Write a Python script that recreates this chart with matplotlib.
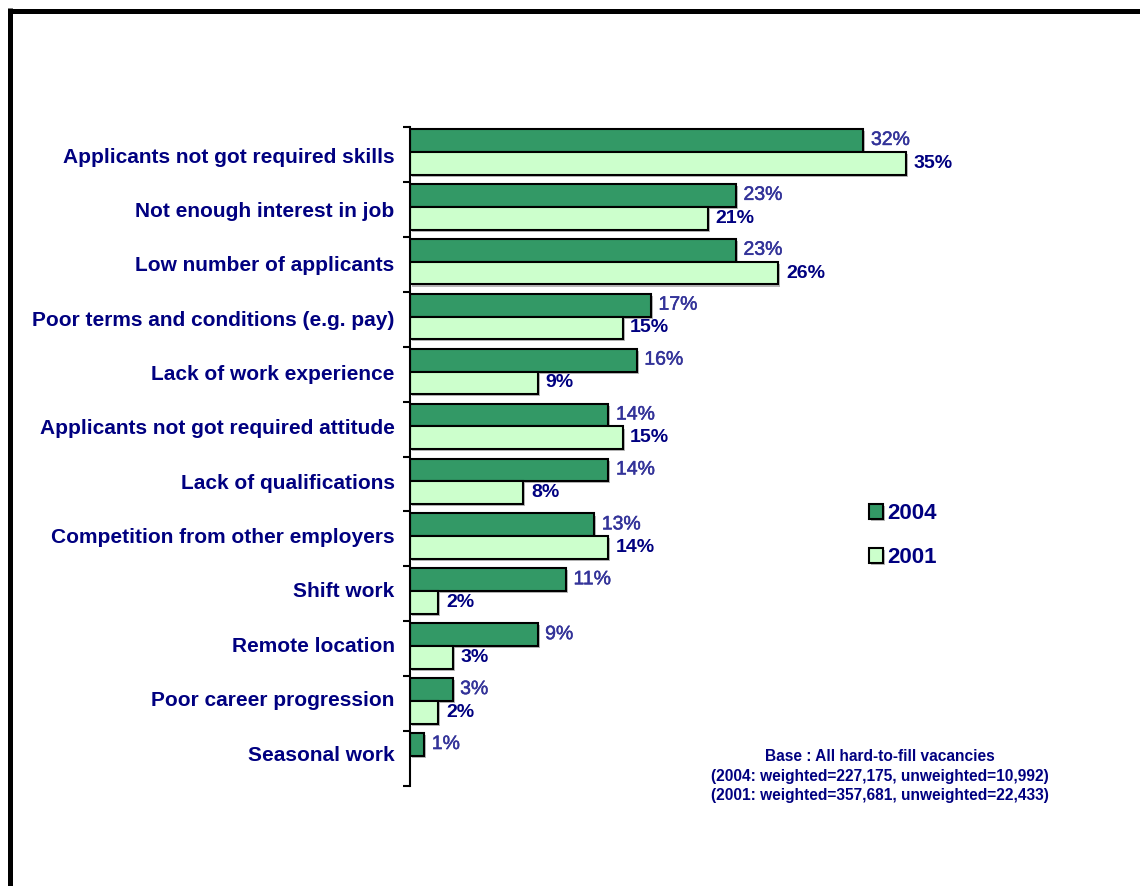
import numpy as np
import matplotlib
matplotlib.use("Agg")
import matplotlib.pyplot as plt
import matplotlib.patheffects as pe
from matplotlib.lines import Line2D

plt.rcParams['font.family'] = ['Liberation Sans', 'DejaVu Sans']

# Reasons for hard-to-fill vacancies (% of vacancies)
categories = [
    "Applicants not got required skills",
    "Not enough interest in job",
    "Low number of applicants",
    "Poor terms and conditions (e.g. pay)",
    "Lack of work experience",
    "Applicants not got required attitude",
    "Lack of qualifications",
    "Competition from other employers",
    "Shift work",
    "Remote location",
    "Poor career progression",
    "Seasonal work",
]
pct_2004 = [32, 23, 23, 17, 16, 14, 14, 13, 11, 9, 3, 1]
pct_2001 = [35, 21, 26, 15, 9, 15, 8, 14, 2, 3, 2, None]

base_note = ("Base : All hard-to-fill vacancies\n"
             "(2004: weighted=227,175, unweighted=10,992)\n"
             "(2001: weighted=357,681, unweighted=22,433)")

NAVY = "#000080"
LABEL_2004 = "#333399"
DARK_GREEN = "#339966"
LIGHT_GREEN = "#CCFFCC"

W, H = 1140, 886
fig = plt.figure(figsize=(W / 100, H / 100), dpi=100)
ax = fig.add_axes([410 / W, 1 - 786 / H, 680 / W, 659 / H])

n = len(categories)
idx = np.arange(n)
bar_h = 0.415
shadow = [pe.SimplePatchShadow(offset=(1.5, -1.5), shadow_rgbFace="#b8b8b8", alpha=1.0), pe.Normal()]

y04 = idx + 0.245
y01 = idx + 0.66
vals01 = [v if v is not None else 0 for v in pct_2001]

b04 = ax.barh(y04, pct_2004, height=bar_h, color=DARK_GREEN, edgecolor="black", linewidth=1.5, label="2004")
b01 = ax.barh(y01, vals01, height=bar_h, color=LIGHT_GREEN, edgecolor="black", linewidth=1.5, label="2001")
for bars, vals in ((b04, pct_2004), (b01, pct_2001)):
    for rect, v in zip(bars, vals):
        if v is None:
            rect.set_visible(False)
        else:
            rect.set_path_effects(shadow)

# 2004 values: lighter blue, a touch heavier than regular weight
thicken = [pe.withStroke(linewidth=0.35, foreground=LABEL_2004)]
for y, v in zip(y04, pct_2004):
    ax.annotate(f"{v}%", (v, y), xytext=(5.5, 0), textcoords="offset points",
                ha="left", va="center", fontsize=14, color=LABEL_2004,
                path_effects=thicken)
for y, v in zip(y01, pct_2001):
    if v is None:
        continue
    ax.annotate(f"{v}%", (v, y), xytext=(5.5, 0), textcoords="offset points",
                ha="left", va="center", fontsize=14, fontweight="bold", color=NAVY)

ax.set_xlim(0, 48)
ax.set_ylim(n, 0)
ax.set_yticks(idx * 0.99 + 0.51)
ax.set_yticklabels(categories, fontsize=15, fontweight="bold", color=NAVY)
ax.tick_params(axis="y", which="major", length=0, pad=11)
ax.set_yticks(np.arange(n + 1), minor=True)
ax.tick_params(axis="y", which="minor", length=5, width=1.5, direction="out", color="black")
ax.set_xticks([])
for side in ("top", "right", "bottom"):
    ax.spines[side].set_visible(False)
ax.spines["left"].set_linewidth(1.5)

leg = ax.legend(handles=[b04, b01], loc="upper left",
                bbox_to_anchor=(858 / W, 1 - 492 / H), bbox_transform=fig.transFigure,
                frameon=False, handlelength=0.63, handleheight=0.63,
                handletextpad=0.2, labelspacing=1.05, borderpad=0,
                prop={"size": 16, "weight": "bold"}, labelcolor=NAVY)

fig.text(880 / W, 1 - 776 / H, base_note, ha="center", va="center",
         fontsize=11.2, fontweight="bold", color=NAVY, linespacing=1.35)

# outer frame: left and top rules only
fig.add_artist(Line2D([10.5 / W, 10.5 / W], [0, 1 - 8 / H], transform=fig.transFigure,
                      color="black", linewidth=3.6, solid_capstyle="butt"))
fig.add_artist(Line2D([8 / W, 1], [1 - 10.5 / H, 1 - 10.5 / H], transform=fig.transFigure,
                      color="black", linewidth=3.6, solid_capstyle="butt"))

fig.savefig("out.png", dpi=100)
